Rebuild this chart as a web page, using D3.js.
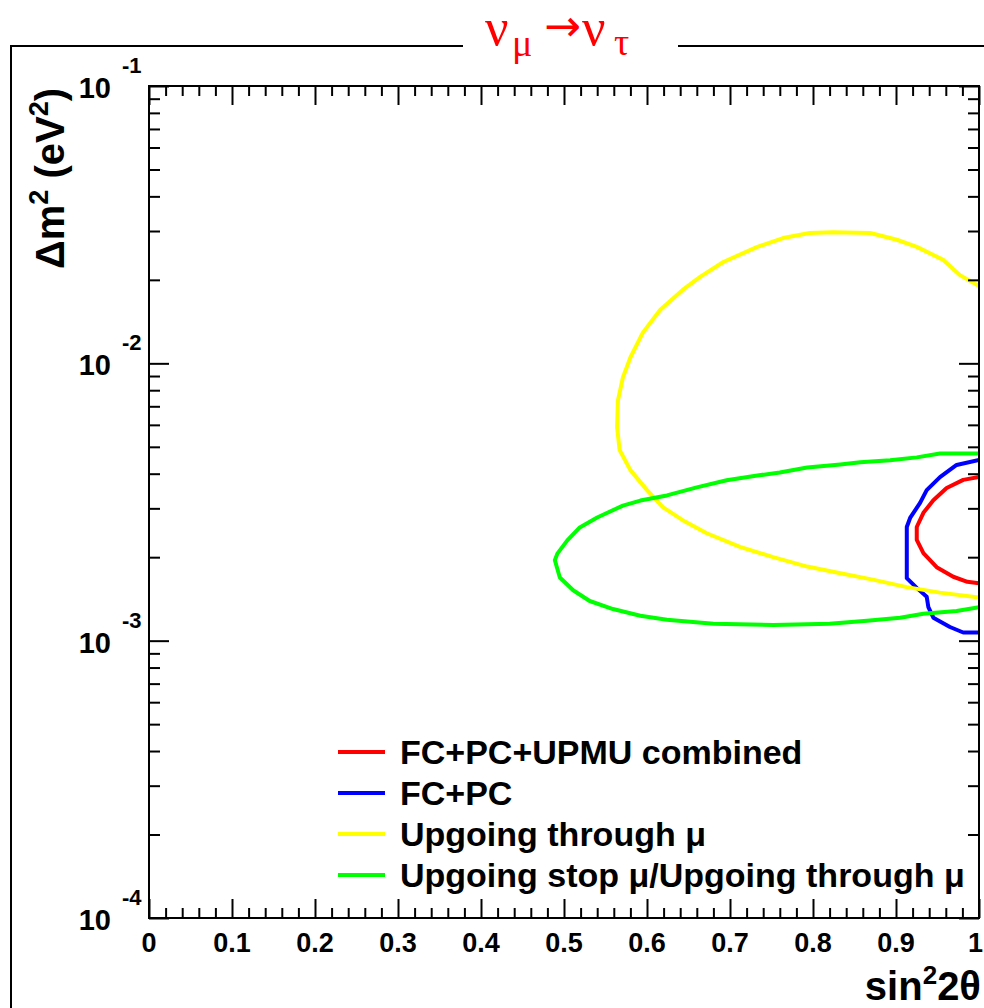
<!DOCTYPE html>
<html>
<head>
<meta charset="utf-8">
<script src="https://cdn.jsdelivr.net/npm/d3@7"></script>
<style>
  body { margin: 0; background: #fff; }
  svg { display: block; }
  text { font-family: "Liberation Sans", Arial, sans-serif; font-weight: bold; }
</style>
</head>
<body>
<div id="chart"></div>
<script>
// ---- data (sin^2 2theta, dm^2 in eV^2) ----
const combined = [ // FC+PC+UPMU combined
  [1.0, 3.89e-3], [0.981, 3.80e-3], [0.961, 3.55e-3], [0.945, 3.21e-3], [0.933, 2.89e-3],
  [0.925, 2.57e-3], [0.925, 2.31e-3], [0.933, 2.07e-3], [0.949, 1.84e-3], [0.969, 1.70e-3],
  [0.986, 1.63e-3], [1.0, 1.61e-3]
];
const fcpc = [ // FC+PC
  [1.0, 4.48e-3], [0.973, 4.30e-3], [0.953, 3.89e-3], [0.937, 3.49e-3], [0.929, 3.14e-3],
  [0.917, 2.77e-3], [0.913, 2.57e-3], [0.913, 2.07e-3], [0.913, 1.68e-3], [0.925, 1.55e-3],
  [0.937, 1.44e-3], [0.939, 1.32e-3], [0.945, 1.21e-3], [0.965, 1.12e-3], [0.981, 1.07e-3],
  [1.0, 1.07e-3]
];
const upThru = [ // Upgoing through mu
  [1.0, 1.90e-2], [0.977, 2.08e-2], [0.957, 2.36e-2], [0.925, 2.63e-2], [0.901, 2.79e-2],
  [0.869, 2.95e-2], [0.824, 2.97e-2], [0.796, 2.95e-2], [0.764, 2.83e-2], [0.733, 2.63e-2],
  [0.692, 2.32e-2], [0.664, 2.05e-2], [0.643, 1.84e-2], [0.616, 1.56e-2], [0.595, 1.29e-2],
  [0.580, 1.05e-2], [0.571, 8.90e-3], [0.565, 7.35e-3], [0.564, 5.88e-3], [0.567, 4.87e-3],
  [0.580, 4.12e-3], [0.600, 3.49e-3], [0.619, 3.03e-3], [0.643, 2.72e-3], [0.672, 2.44e-3],
  [0.712, 2.18e-3], [0.752, 2.00e-3], [0.793, 1.85e-3], [0.833, 1.75e-3], [0.872, 1.66e-3],
  [0.913, 1.56e-3], [0.953, 1.49e-3], [1.0, 1.43e-3]
];
const stopThru = [ // Upgoing stop mu / Upgoing through mu
  [1.0, 4.73e-3], [0.953, 4.73e-3], [0.925, 4.58e-3], [0.893, 4.47e-3], [0.857, 4.40e-3],
  [0.833, 4.32e-3], [0.793, 4.21e-3], [0.760, 4.04e-3], [0.733, 3.94e-3], [0.696, 3.79e-3],
  [0.660, 3.57e-3], [0.624, 3.34e-3], [0.592, 3.20e-3], [0.571, 3.07e-3], [0.540, 2.78e-3],
  [0.519, 2.56e-3], [0.504, 2.30e-3], [0.492, 2.06e-3], [0.489, 1.95e-3], [0.495, 1.69e-3],
  [0.511, 1.52e-3], [0.531, 1.39e-3], [0.559, 1.30e-3], [0.592, 1.23e-3], [0.624, 1.19e-3],
  [0.680, 1.15e-3], [0.752, 1.14e-3], [0.820, 1.15e-3], [0.865, 1.18e-3], [0.905, 1.21e-3],
  [0.933, 1.25e-3], [0.973, 1.28e-3], [1.0, 1.32e-3]
];
const seriesNames = ["FC+PC+UPMU combined", "FC+PC", "Upgoing through \u03bc", "Upgoing stop \u03bc/Upgoing through \u03bc"];
const seriesColors = ["#ff0000", "#0000ff", "#ffff00", "#00ff00"];
const xTicks = [0, 0.1, 0.2, 0.3, 0.4, 0.5, 0.6, 0.7, 0.8, 0.9, 1];
const xTickLabels = ["0", "0.1", "0.2", "0.3", "0.4", "0.5", "0.6", "0.7", "0.8", "0.9", "1"];
const yDecades = [1e-4, 1e-3, 1e-2, 1e-1];
const yExponents = ["-4", "-3", "-2", "-1"];

// ---- layout ----
const width = 984, height = 1008;
const x = d3.scaleLinear().domain([0, 1]).range([149, 979]);
const y = d3.scaleLog().domain([1e-4, 1e-1]).range([918, 86]);

const svg = d3.select("#chart").append("svg")
  .attr("width", width).attr("height", height);

// outer pad frame, broken by the title
svg.append("path")
  .attr("d", "M11,1010 V46 H463 M678,46 H990")
  .attr("fill", "none").attr("stroke", "#000").attr("stroke-width", 2);

// title  nu_mu -> nu_tau
const title = svg.append("g").attr("fill", "#ff0000");
function glyph(xp, yp, size, fam, s) {
  title.append("text").attr("x", xp).attr("y", yp)
    .style("font-size", size + "px").style("font-weight", "normal")
    .style("font-family", fam).text(s);
}
glyph(485, 45, 52, "'Liberation Serif', serif", "\u03bd");
glyph(512, 56, 38, "'Liberation Serif', serif", "\u03bc");
glyph(544, 41, 44, "'DejaVu Sans', sans-serif", "\u2192");
glyph(582, 45, 52, "'Liberation Serif', serif", "\u03bd");
glyph(614, 55, 38, "'Liberation Serif', serif", "\u03c4");

// contours
svg.append("clipPath").attr("id", "clip")
  .append("rect").attr("x", 149).attr("y", 86).attr("width", 830).attr("height", 832);

const line = d3.line().x(d => x(d[0])).y(d => y(d[1])).curve(d3.curveLinear);
const contours = [combined, fcpc, upThru, stopThru];
svg.append("g").attr("clip-path", "url(#clip)")
  .selectAll("path").data(contours).join("path")
  .attr("d", line)
  .attr("fill", "none")
  .attr("stroke", (d, i) => seriesColors[i])
  .attr("stroke-width", 4)
  .attr("stroke-linejoin", "round");

// ticks (all inward, ROOT style)
const xMinor = d3.range(0, 1.0001, 0.02).filter(v => Math.abs(v * 10 - Math.round(v * 10)) > 1e-6);
const yMinor = [];
yDecades.slice(0, 3).forEach(d => { for (let k = 2; k <= 9; k++) yMinor.push(d * k); });

function styleAxis(g) {
  g.select(".domain").remove();
  g.selectAll(".tick line").attr("stroke", "#000").attr("stroke-width", 2);
  g.selectAll(".tick text").remove();
}
svg.append("g").attr("transform", "translate(0,918)")
  .call(d3.axisBottom(x).tickValues(xTicks).tickSize(-19)).call(styleAxis);
svg.append("g").attr("transform", "translate(0,918)")
  .call(d3.axisBottom(x).tickValues(xMinor).tickSize(-10)).call(styleAxis);
svg.append("g").attr("transform", "translate(0,86)")
  .call(d3.axisTop(x).tickValues(xTicks).tickSize(-19)).call(styleAxis);
svg.append("g").attr("transform", "translate(0,86)")
  .call(d3.axisTop(x).tickValues(xMinor).tickSize(-10)).call(styleAxis);
svg.append("g").attr("transform", "translate(149,0)")
  .call(d3.axisLeft(y).tickValues(yDecades).tickSize(-20)).call(styleAxis);
svg.append("g").attr("transform", "translate(149,0)")
  .call(d3.axisLeft(y).tickValues(yMinor).tickSize(-11)).call(styleAxis);
svg.append("g").attr("transform", "translate(979,0)")
  .call(d3.axisRight(y).tickValues(yDecades).tickSize(-20)).call(styleAxis);
svg.append("g").attr("transform", "translate(979,0)")
  .call(d3.axisRight(y).tickValues(yMinor).tickSize(-11)).call(styleAxis);

// frame
svg.append("rect").attr("x", 149).attr("y", 86).attr("width", 830).attr("height", 832)
  .attr("fill", "none").attr("stroke", "#000").attr("stroke-width", 2);

// x tick labels (last one kept inside the page)
svg.append("g").selectAll("text").data(xTicks).join("text")
  .attr("x", (d, i) => i === xTicks.length - 1 ? 983 : x(d)).attr("y", 952)
  .attr("text-anchor", (d, i) => i === xTicks.length - 1 ? "end" : "middle")
  .style("font-size", "27px")
  .text((d, i) => xTickLabels[i]);

// y tick labels 10^n
const yl = svg.append("g").selectAll("g").data(yDecades).join("g");
yl.append("text").attr("x", 111).attr("y", d => y(d) + 12)
  .attr("text-anchor", "end").style("font-size", "29px").text("10");
yl.append("text").attr("x", 122).attr("y", d => y(d) - 13)
  .attr("text-anchor", "start").style("font-size", "22px")
  .text((d, i) => yExponents[i]);

// axis titles
const yt = svg.append("text")
  .attr("transform", "translate(64,88) rotate(-90)")
  .attr("text-anchor", "end")
  .style("font-size", "40px");
yt.append("tspan").text("\u0394m");
yt.append("tspan").attr("dy", -16).style("font-size", "27px").text("2");
yt.append("tspan").attr("dy", 16).text(" (eV");
yt.append("tspan").attr("dy", -16).style("font-size", "27px").text("2");
yt.append("tspan").attr("dy", 16).text(")");

const xt = svg.append("text")
  .attr("x", 981).attr("y", 1000)
  .attr("text-anchor", "end")
  .style("font-size", "40px");
xt.append("tspan").text("sin");
xt.append("tspan").attr("dy", -16).style("font-size", "26px").text("2");
xt.append("tspan").attr("dy", 16).text("2\u03b8");

// legend
const ly = d3.scaleLinear().domain([0, 3]).range([752, 875]);
const leg = svg.append("g").selectAll("g").data(seriesNames).join("g")
  .attr("transform", (d, i) => `translate(0,${ly(i)})`);
leg.append("line").attr("x1", 338).attr("x2", 385)
  .attr("stroke", (d, i) => seriesColors[i]).attr("stroke-width", 4);
leg.append("text").attr("x", 400).attr("y", 12)
  .style("font-size", "34px").text(d => d);
</script>
</body>
</html>
